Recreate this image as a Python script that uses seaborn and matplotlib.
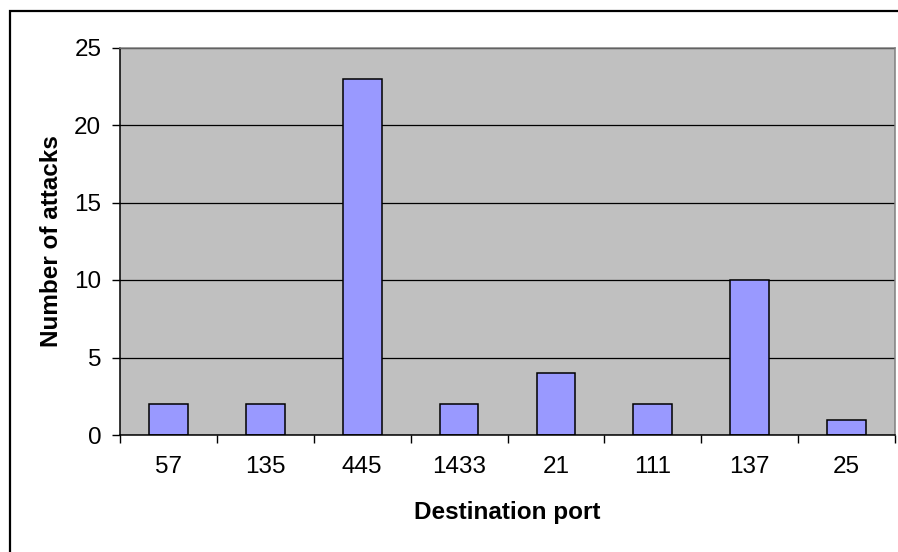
import matplotlib
matplotlib.use("Agg")
import matplotlib.pyplot as plt
from matplotlib.patches import Rectangle
from matplotlib.ticker import FixedLocator
import seaborn as sns
import pandas as pd

# Attacks observed per destination port
ports = ["57", "135", "445", "1433", "21", "111", "137", "25"]
attacks = [2, 2, 23, 2, 4, 2, 10, 1]
y_ticks = [0, 5, 10, 15, 20, 25]

sns.set_theme(style="white")
plt.rcParams["font.family"] = ["Liberation Sans", "DejaVu Sans"]

df = pd.DataFrame({"port": ports, "attacks": attacks})

fig = plt.figure(figsize=(8.98, 5.52), dpi=100)
fig.patch.set_facecolor("white")
ax = fig.add_axes([120 / 898, 1 - 435 / 552, 775 / 898, 387.5 / 552])
ax.set_facecolor("#C0C0C0")

sns.barplot(data=df, x="port", y="attacks", order=ports, color="#9999FF",
            saturation=1, width=0.4, edgecolor="black", linewidth=1.1, ax=ax)

ax.set_xlim(-0.5, len(ports) - 0.5)
ax.set_ylim(0, 25)
ax.set_yticks(y_ticks)
ax.set_axisbelow(True)
ax.yaxis.grid(True, color="black", linewidth=0.9)
ax.xaxis.grid(False)

# category boundary ticks on the x axis
ax.xaxis.set_minor_locator(FixedLocator([i - 0.5 for i in range(len(ports) + 1)]))
ax.tick_params(axis="x", which="major", length=0, pad=15, labelsize=17.5, colors="black")
ax.tick_params(axis="x", which="minor", bottom=True, length=5.5, width=1, color="black")
ax.tick_params(axis="y", which="major", left=True, length=5.5, width=1, pad=8,
               labelsize=17.5, colors="black")

for side in ("left", "bottom"):
    ax.spines[side].set_color("black")
    ax.spines[side].set_linewidth(1.1)
for side in ("top", "right"):
    ax.spines[side].set_visible(True)
    ax.spines[side].set_color("#808080")
    ax.spines[side].set_linewidth(1.1)

ax.set_xlabel("Destination port", fontsize=17.5, fontweight="bold", color="black")
ax.set_ylabel("Number of attacks", fontsize=17.5, fontweight="bold", color="black")
ax.xaxis.set_label_coords(0.5, (435 - 513) / 387.5)
ax.xaxis.label.set_va("center")
ax.yaxis.set_label_coords((51 - 120) / 775, 0.5)
ax.yaxis.label.set_va("center")

# outer chart frame
fig.patches.append(Rectangle((9.5 / 898, -0.1), 1.2, 1.1 - 10.5 / 552,
                             transform=fig.transFigure, fill=False,
                             edgecolor="black", linewidth=1.6, clip_on=False))

fig.savefig("out.png", dpi=100, facecolor="white")
